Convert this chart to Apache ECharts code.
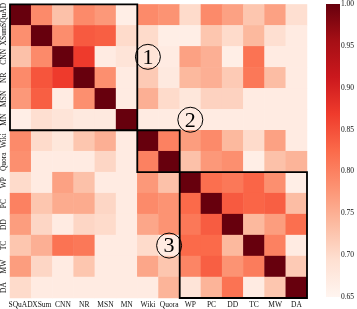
<!DOCTYPE html>
<html><head><meta charset="utf-8">
<script src="https://cdn.jsdelivr.net/npm/echarts@6/dist/echarts.min.js"></script>
<style>html,body{margin:0;padding:0;background:#fff}#c{width:357px;height:309px}</style>
</head><body><div id="c"></div>
<script>
const categories = ['SQuAD','XSum','CNN','NR','MSN','MN','Wiki','Quora','WP','PC','DD','TC','MW','DA'];
const rowSQuAD = [1.00,0.790,0.730,0.790,0.775,0.665,0.790,0.780,0.700,0.790,0.765,0.725,0.765,0.695];
const rowXSum  = [0.785,1.00,0.787,0.840,0.835,0.700,0.700,0.665,0.665,0.725,0.700,0.740,0.695,0.670];
const rowCNN   = [0.730,0.790,1.00,0.870,0.670,0.685,0.685,0.670,0.765,0.750,0.665,0.815,0.670,0.670];
const rowNR    = [0.790,0.845,0.870,1.00,0.785,0.670,0.720,0.675,0.740,0.750,0.720,0.810,0.735,0.670];
const rowMSN   = [0.775,0.835,0.670,0.785,1.00,0.670,0.750,0.700,0.680,0.710,0.710,0.670,0.670,0.670];
const rowMN    = [0.665,0.695,0.685,0.675,0.675,1.00,0.670,0.670,0.670,0.670,0.670,0.670,0.670,0.670];
const rowWiki  = [0.790,0.700,0.680,0.725,0.750,0.670,1.00,0.800,0.770,0.790,0.740,0.700,0.765,0.670];
const rowQuora = [0.785,0.670,0.670,0.670,0.705,0.670,0.800,1.00,0.730,0.775,0.785,0.665,0.730,0.745];
const rowWP    = [0.700,0.670,0.765,0.730,0.670,0.670,0.775,0.730,1.00,0.820,0.810,0.830,0.785,0.665];
const rowPC    = [0.800,0.725,0.755,0.755,0.705,0.670,0.790,0.780,0.825,1.00,0.840,0.830,0.835,0.735];
const rowDD    = [0.770,0.705,0.670,0.705,0.700,0.670,0.760,0.780,0.810,0.838,1.00,0.740,0.770,0.820];
const rowTC    = [0.725,0.750,0.815,0.810,0.670,0.670,0.700,0.670,0.825,0.825,0.740,1.00,0.800,0.670];
const rowMW    = [0.770,0.705,0.670,0.725,0.670,0.670,0.760,0.725,0.795,0.835,0.780,0.805,1.00,0.720];
const rowDA    = [0.700,0.670,0.670,0.670,0.670,0.670,0.670,0.745,0.685,0.745,0.815,0.670,0.725,1.00];
const rows = [rowSQuAD,rowXSum,rowCNN,rowNR,rowMSN,rowMN,rowWiki,rowQuora,rowWP,rowPC,rowDD,rowTC,rowMW,rowDA];
const colorbarTicks = [0.65,0.70,0.75,0.80,0.85,0.90,0.95,1.00];
const vMin = 0.65, vMax = 1.00;
// groups: [first index, last index, label]
const groups = [[0,5,'1'],[6,7,'2'],[8,13,'3']];
// label anchor positions in category units (col, row)
const groupLabelPos = [[6.2,2.4],[8.15,4.65],[6.65,10.55]];

const reds = ['#fff5f0','#fee0d2','#fcbba1','#fc9272','#fb6a4a','#ef3b2c','#cb181d','#a50f15','#67000d'];
const data = [];
rows.forEach((r,i)=>r.forEach((v,j)=>data.push([j,i,v])));

const font = 'Liberation Serif';
const chart = echarts.init(document.getElementById('c'));
const GL=9, GT=1, GW=298, GH=299;
const CBL=326, CBT=4, CBW=14, CBH=293;
chart.setOption({
  animation:false,
  grid:[{left:GL,top:GT,width:GW,height:GH},{left:CBL,top:CBT,width:CBW,height:CBH}],
  xAxis:[{type:'category',data:categories,gridIndex:0,axisLine:{show:false},axisTick:{show:false},
          splitArea:{show:false},axisLabel:{fontFamily:font,fontSize:7.5,color:'#111',margin:3,interval:0}},
         {type:'value',gridIndex:1,show:false,min:0,max:1}],
  yAxis:[{type:'category',data:categories,inverse:true,gridIndex:0,axisLine:{show:false},axisTick:{show:false},
          axisLabel:{fontFamily:font,fontSize:7.5,color:'#111',margin:2,rotate:90,interval:0}},
         {type:'value',gridIndex:1,min:vMin,max:vMax,interval:0.05,position:'right',
          axisLine:{show:false},axisTick:{show:false},splitLine:{show:false},
          axisLabel:{fontFamily:font,fontSize:7.5,color:'#111',margin:4,formatter:v=>v.toFixed(2)}}],
  visualMap:{show:false,min:vMin,max:vMax,dimension:2,seriesIndex:0,inRange:{color:reds}},
  series:[{type:'heatmap',xAxisIndex:0,yAxisIndex:0,data:data,itemStyle:{borderWidth:0},emphasis:{disabled:true}}]
});

// colour bar: offset 0 = top = darkest
const stops = reds.map((c,i)=>({offset:1-i/(reds.length-1),color:c})).sort((a,b)=>a.offset-b.offset);
const g = [];
g.push({type:'rect',shape:{x:CBL,y:CBT,width:CBW,height:CBH},
  style:{fill:new echarts.graphic.LinearGradient(0,0,0,1,stops)},silent:true});
const p0 = chart.convertToPixel({gridIndex:0},[0,0]);
const p1 = chart.convertToPixel({gridIndex:0},[1,1]);
const cw = p1[0]-p0[0], ch = p1[1]-p0[1];
groups.forEach((gr,k)=>{
  const a = chart.convertToPixel({gridIndex:0},[gr[0],gr[0]]);
  const b = chart.convertToPixel({gridIndex:0},[gr[1],gr[1]]);
  const x0=a[0]-cw/2, y0=a[1]-ch/2, x1=b[0]+cw/2, y1=b[1]+ch/2;
  g.push({type:'rect',shape:{x:x0,y:y0,width:x1-x0,height:y1-y0},style:{fill:null,stroke:'#000',lineWidth:1.8},silent:true,z:10});
  const c = chart.convertToPixel({gridIndex:0},groupLabelPos[k]);
  g.push({type:'circle',shape:{cx:c[0],cy:c[1],r:12.5},style:{fill:null,stroke:'#000',lineWidth:1},silent:true,z:11});
  g.push({type:'text',x:c[0],y:c[1]+1,style:{text:gr[2],font:'22px "Liberation Serif"',fill:'#000',align:'center',verticalAlign:'middle'},silent:true,z:11});
});
chart.setOption({graphic:g});
</script></body></html>
